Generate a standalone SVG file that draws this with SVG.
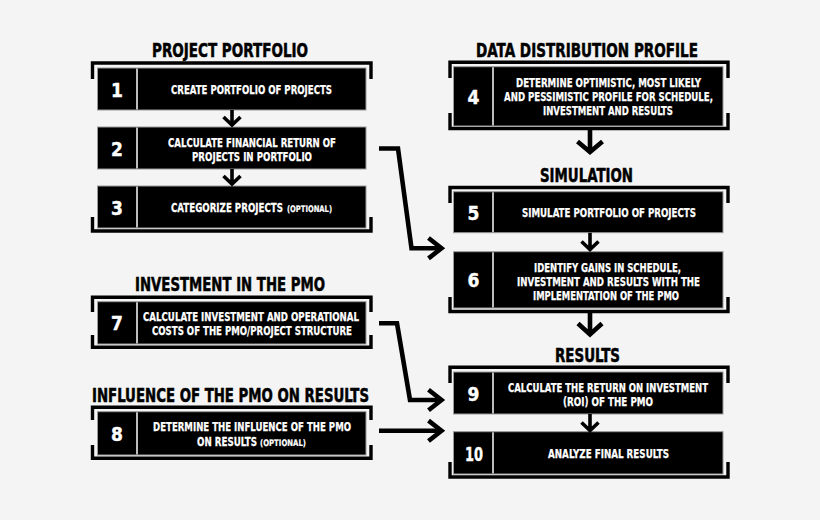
<svg xmlns="http://www.w3.org/2000/svg" width="820" height="520" viewBox="0 0 820 520">
<defs>
<style>
text{font-family:"DejaVu Sans Condensed","DejaVu Sans","Liberation Sans",sans-serif;font-weight:bold;font-stretch:condensed}
.title{font-size:19px;fill:#000;stroke:#000;stroke-width:0.5}
.bt{font-size:12.5px;fill:#fff;stroke:#fff;stroke-width:0.25}
.sm{font-size:9px;fill:#fff;stroke:#fff;stroke-width:0.2}
.num{font-size:19px;fill:#fff;text-anchor:middle;stroke:#fff;stroke-width:0.4}
.box{fill:#000;stroke:#9a9a9a;stroke-width:1}
.div{stroke:#bdbdbd;stroke-width:2}
.br{fill:none;stroke:#000;stroke-width:3.4;stroke-linecap:butt;stroke-linejoin:miter}
.con{fill:none;stroke:#000;stroke-width:4.6;stroke-linejoin:miter;stroke-miterlimit:10}
.ah{fill:none;stroke:#000;stroke-width:4.6;stroke-linejoin:miter;stroke-linecap:butt}
.sa{fill:none;stroke:#000;stroke-width:3.6}
.ba{fill:none;stroke:#000;stroke-width:4.6}
</style>
</defs>
<rect width="820" height="520" fill="#f4f4f4"/>

<g id="brackets">
<path class="br" d="M92.5,79 V63 H371 V79 M92.5,217 V231 H371 V217"/>
<path class="br" d="M450,78 V62.3 H728 V78 M450,113 V128.5 H728 V113"/>
<path class="br" d="M450,203 V187.5 H728 V203 M450,297 V311.5 H728 V297"/>
<path class="br" d="M450,383 V367.2 H728 V383 M450,462 V477 H728 V462"/>
<path class="br" d="M92.5,312 V297.2 H371 V312 M92.5,335 V347.3 H371 V335"/>
<path class="br" d="M92.5,420 V407.3 H371 V420 M92.5,445 V458.3 H371 V445"/>
</g>

<g id="titles">
<text class="title" x="152" y="57" textLength="156" lengthAdjust="spacingAndGlyphs">PROJECT PORTFOLIO</text>
<text class="title" x="476" y="57" textLength="222" lengthAdjust="spacingAndGlyphs">DATA DISTRIBUTION PROFILE</text>
<text class="title" x="540" y="182" textLength="93" lengthAdjust="spacingAndGlyphs">SIMULATION</text>
<text class="title" x="135" y="291" textLength="190" lengthAdjust="spacingAndGlyphs">INVESTMENT IN THE PMO</text>
<text class="title" x="92" y="402" textLength="277" lengthAdjust="spacingAndGlyphs">INFLUENCE OF THE PMO ON RESULTS</text>
<text class="title" x="555" y="362" textLength="65" lengthAdjust="spacingAndGlyphs">RESULTS</text>
</g>

<g id="node1">
<rect class="box" x="97.5" y="68" width="268.5" height="42"/>
<line class="div" x1="137" y1="68.5" x2="137" y2="109.5"/>
<text class="num" x="117" y="96.5">1</text>
<text class="bt" x="171" y="94" textLength="161" lengthAdjust="spacingAndGlyphs">CREATE PORTFOLIO OF PROJECTS</text>
</g>
<g id="node2">
<rect class="box" x="97.5" y="127" width="268.5" height="42"/>
<line class="div" x1="137" y1="127.5" x2="137" y2="168.5"/>
<text class="num" x="117" y="155.5">2</text>
<text class="bt" x="168" y="146.7" textLength="168" lengthAdjust="spacingAndGlyphs">CALCULATE FINANCIAL RETURN OF</text>
<text class="bt" x="192" y="160.7" textLength="120" lengthAdjust="spacingAndGlyphs">PROJECTS IN PORTFOLIO</text>
</g>
<g id="node3">
<rect class="box" x="97.5" y="186" width="268.5" height="42"/>
<line class="div" x1="137" y1="186.5" x2="137" y2="227.5"/>
<text class="num" x="117" y="214.5">3</text>
<text class="bt" transform="translate(171 211.7) scale(0.75 1)" x="0" y="0" textLength="149.3" lengthAdjust="spacingAndGlyphs">CATEGORIZE PROJECTS</text>
<text class="sm" transform="translate(287 211.7) scale(0.75 1)" x="0" y="0" textLength="60" lengthAdjust="spacingAndGlyphs">(OPTIONAL)</text>
</g>
<g id="node4">
<rect class="box" x="453.5" y="66.7" width="269.5" height="59.3"/>
<line class="div" x1="493" y1="67.2" x2="493" y2="125.5"/>
<text class="num" x="473.5" y="103.5">4</text>
<text class="bt" x="516" y="86.7" textLength="185" lengthAdjust="spacingAndGlyphs">DETERMINE OPTIMISTIC, MOST LIKELY</text>
<text class="bt" x="504" y="100.7" textLength="209" lengthAdjust="spacingAndGlyphs">AND PESSIMISTIC PROFILE FOR SCHEDULE,</text>
<text class="bt" x="543" y="115" textLength="130" lengthAdjust="spacingAndGlyphs">INVESTMENT AND RESULTS</text>
</g>
<g id="node5">
<rect class="box" x="453.5" y="191.7" width="269.5" height="41"/>
<line class="div" x1="493" y1="192.2" x2="493" y2="232.2"/>
<text class="num" x="473.5" y="219.5">5</text>
<text class="bt" x="522" y="217.3" textLength="174" lengthAdjust="spacingAndGlyphs">SIMULATE PORTFOLIO OF PROJECTS</text>
</g>
<g id="node6">
<rect class="box" x="453.5" y="251.7" width="269.5" height="56.3"/>
<line class="div" x1="493" y1="252.2" x2="493" y2="307.5"/>
<text class="num" x="473.5" y="287">6</text>
<text class="bt" x="534" y="271.7" textLength="147" lengthAdjust="spacingAndGlyphs">IDENTIFY GAINS IN SCHEDULE,</text>
<text class="bt" x="517" y="286" textLength="183" lengthAdjust="spacingAndGlyphs">INVESTMENT AND RESULTS WITH THE</text>
<text class="bt" x="533" y="300" textLength="146" lengthAdjust="spacingAndGlyphs">IMPLEMENTATION OF THE PMO</text>
</g>
<g id="node7">
<rect class="box" x="97.5" y="301.7" width="268.5" height="42.3"/>
<line class="div" x1="137" y1="302.2" x2="137" y2="343.5"/>
<text class="num" x="117" y="330">7</text>
<text class="bt" x="143" y="320.7" textLength="216" lengthAdjust="spacingAndGlyphs">CALCULATE INVESTMENT AND OPERATIONAL</text>
<text class="bt" x="152" y="335" textLength="200" lengthAdjust="spacingAndGlyphs">COSTS OF THE PMO/PROJECT STRUCTURE</text>
</g>
<g id="node8">
<rect class="box" x="97.5" y="411.7" width="268.5" height="43.3"/>
<line class="div" x1="137" y1="412.2" x2="137" y2="454.5"/>
<text class="num" x="117" y="440.5">8</text>
<text class="bt" x="153" y="431" textLength="198" lengthAdjust="spacingAndGlyphs">DETERMINE THE INFLUENCE OF THE PMO</text>
<text class="bt" transform="translate(197 445.7) scale(0.75 1)" x="0" y="0" textLength="80" lengthAdjust="spacingAndGlyphs">ON RESULTS</text>
<text class="sm" transform="translate(260 445.7) scale(0.75 1)" x="0" y="0" textLength="61.3" lengthAdjust="spacingAndGlyphs">(OPTIONAL)</text>
</g>
<g id="node9">
<rect class="box" x="453.5" y="372" width="269.5" height="42"/>
<line class="div" x1="493" y1="372.5" x2="493" y2="413.5"/>
<text class="num" x="473.5" y="400.5">9</text>
<text class="bt" x="508" y="391.7" textLength="200" lengthAdjust="spacingAndGlyphs">CALCULATE THE RETURN ON INVESTMENT</text>
<text class="bt" x="563" y="406" textLength="90" lengthAdjust="spacingAndGlyphs">(ROI) OF THE PMO</text>
</g>
<g id="node10">
<rect class="box" x="453.5" y="431.7" width="269.5" height="42.3"/>
<line class="div" x1="493" y1="432.2" x2="493" y2="473.5"/>
<text class="num" x="474" y="460.5" textLength="18" lengthAdjust="spacingAndGlyphs">10</text>
<text class="bt" x="548" y="458.3" textLength="121" lengthAdjust="spacingAndGlyphs">ANALYZE FINAL RESULTS</text>
</g>

<g id="connectors">
<path class="sa" d="M232,110 V124.5 M223.5,117 L232,125 L240.5,117"/>
<path class="sa" d="M232,169 V183.5 M223.5,176 L232,184 L240.5,176"/>
<path class="sa" d="M590,232.7 V249 M581.5,241.5 L590,249.5 L598.5,241.5"/>
<path class="sa" d="M590,414 V430 M581.5,422.5 L590,430.5 L598.5,422.5"/>
<path class="ba" d="M590,130 V151 M577.5,141.5 L590,152 L602.5,141.5"/>
<path class="ba" d="M590,313 V334 M578,323.5 L590,334.5 L602,323.5"/>
<path class="con" d="M379,148.5 H398 L411.5,248.2 H440"/>
<path class="ah" d="M428.5,238 L441.5,248.2 L428.5,258.4"/>
<path class="con" d="M379,323.3 H397 L410,400 H440"/>
<path class="ah" d="M428.5,389.8 L441.5,400 L428.5,410.2"/>
<path class="con" d="M379,430.8 H440"/>
<path class="ah" d="M428.5,420.6 L441.5,430.8 L428.5,441"/>
</g>
</svg>
